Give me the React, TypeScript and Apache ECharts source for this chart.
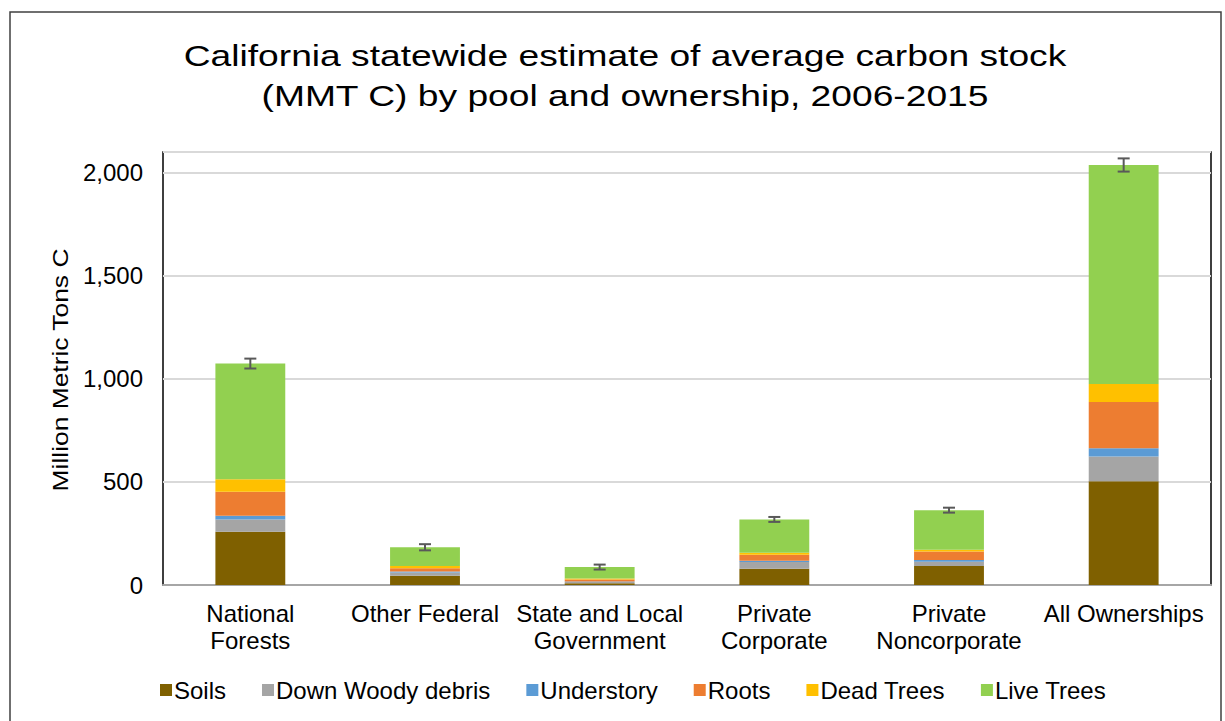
import React, { useEffect, useRef } from "react";
import * as echarts from "echarts";

const categories = [
  "National\nForests",
  "Other Federal",
  "State and Local\nGovernment",
  "Private\nCorporate",
  "Private\nNoncorporate",
  "All Ownerships",
];

const soils = [258, 45, 8, 79, 92, 503];
const downWoodyDebris = [60, 16, 7, 32, 21, 120];
const understory = [18, 4, 2, 7, 8, 40];
const roots = [116, 16, 10, 29, 42, 224];
const deadTrees = [61, 11, 5, 9, 8, 88];
const liveTrees = [561, 91, 55, 162, 192, 1062];
const errors = [24, 15, 12, 12, 12, 32];

const yTicks = [0, 500, 1000, 1500, 2000];

const seriesNames = ["Soils", "Down Woody debris", "Understory", "Roots", "Dead Trees", "Live Trees"];
const seriesColors = ["#7F6000", "#A5A5A5", "#5B9BD5", "#ED7D31", "#FFC000", "#92D050"];

const FONT = "'Liberation Sans', Arial, sans-serif";

export default function App() {
  const ref = useRef<HTMLDivElement>(null);

  useEffect(() => {
    if (!ref.current) return;
    const chart = echarts.init(ref.current, undefined, { renderer: "svg" });
    const pools = [soils, downWoodyDebris, understory, roots, deadTrees, liveTrees];
    const totals = categories.map((_, i) => pools.reduce((s, p) => s + p[i], 0));
    const errData = categories.map((_, i) => [i, totals[i], errors[i]]);

    const barSeries = pools.map((data, k) => ({
      name: seriesNames[k],
      type: "bar",
      stack: "total",
      data,
      barWidth: "40%",
      itemStyle: { color: seriesColors[k] },
      emphasis: { disabled: true },
    }));

    chart.setOption({
      animation: false,
      textStyle: { fontFamily: FONT },
      grid: {
        left: 163,
        top: 152,
        width: 1048,
        height: 433,
        show: true,
        borderColor: "#000",
        borderWidth: 1.5,
        containLabel: false,
      },
      legend: {
        bottom: 14,
        left: 155,
        icon: "rect",
        itemWidth: 12,
        itemHeight: 12,
        itemGap: 36,
        textStyle: { fontFamily: FONT, fontSize: 24, color: "#000", padding: [0, 0, 0, -3] },
        data: seriesNames,
      },
      xAxis: {
        type: "category",
        data: categories,
        axisLine: { show: true, lineStyle: { color: "#A6A6A6", width: 2 } },
        axisTick: { show: false },
        axisLabel: { fontFamily: FONT, fontSize: 24, color: "#000", lineHeight: 27, margin: 15, interval: 0 },
      },
      yAxis: {
        type: "value",
        min: 0,
        max: 2100,
        interval: 500,
        axisLine: { show: false },
        axisTick: { show: false },
        splitLine: { lineStyle: { color: "#D9D9D9", width: 2 } },
        axisLabel: {
          fontFamily: FONT,
          fontSize: 24,
          color: "#000",
          margin: 20,
          formatter: (v: number) => (yTicks.includes(v) ? v.toLocaleString("en-US") : ""),
        },
      },
      graphic: [
        {
          type: "rect",
          shape: { x: 10, y: 12, width: 1211, height: 720 },
          style: { fill: "none", stroke: "#404040", lineWidth: 1.5 },
          silent: true,
          z: -1,
        },
        {
          type: "text",
          x: 625,
          y: 35,
          scaleX: 1.24,
          style: {
            text: "California statewide estimate of average carbon stock\n(MMT C) by pool and ownership, 2006-2015",
            fontFamily: FONT,
            fontSize: 30,
            lineHeight: 40,
            fill: "#000",
            textAlign: "center",
            textVerticalAlign: "top",
          },
        },
        {
          type: "text",
          x: 60,
          y: 370,
          rotation: Math.PI / 2,
          scaleX: 1.2,
          style: {
            text: "Million Metric Tons C",
            fontFamily: FONT,
            fontSize: 22,
            fill: "#000",
            textAlign: "center",
            textVerticalAlign: "middle",
          },
        },
      ],
      series: [
        ...barSeries,
        {
          type: "custom",
          name: "error",
          data: errData,
          z: 10,
          renderItem: (params: any, api: any) => {
            const x = api.value(0);
            const t = api.value(1);
            const e = api.value(2);
            const hi = api.coord([x, t + e]);
            const lo = api.coord([x, t - e]);
            const w = 6;
            const style = { stroke: "#595959", lineWidth: 2 };
            return {
              type: "group",
              children: [
                { type: "line", shape: { x1: hi[0], y1: hi[1], x2: lo[0], y2: lo[1] }, style },
                { type: "line", shape: { x1: hi[0] - w, y1: hi[1], x2: hi[0] + w, y2: hi[1] }, style },
                { type: "line", shape: { x1: lo[0] - w, y1: lo[1], x2: lo[0] + w, y2: lo[1] }, style },
              ],
            };
          },
        },
      ],
    });

    return () => chart.dispose();
  }, []);

  return <div ref={ref} style={{ width: 1225, height: 721, position: "absolute", left: 0, top: 0 }} />;
}
